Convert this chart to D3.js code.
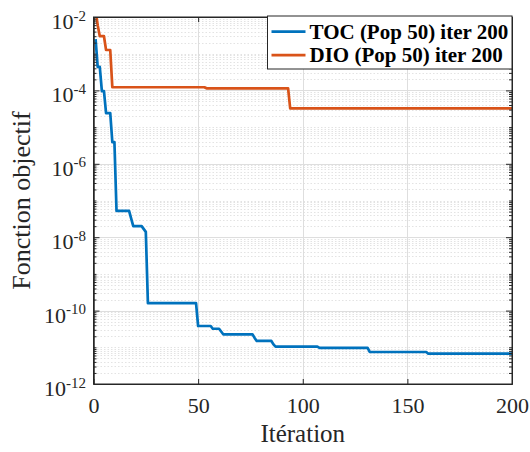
<!DOCTYPE html>
<html>
<head>
<meta charset="utf-8">
<script src="https://cdn.jsdelivr.net/npm/d3@7"></script>
<style>
  html, body { margin: 0; padding: 0; background: #ffffff; }
  svg { display: block; }
  text, tspan { font-family: "Liberation Serif", "Times New Roman", serif; fill: #262626; }
</style>
</head>
<body>
<svg id="chart" width="530" height="452"></svg>
<script>
// Best objective value per iteration (change points of each convergence curve)
const tocIter  = [1, 2, 3, 4, 5, 6, 8, 9, 10, 11, 17, 19, 23, 25, 26, 49, 50, 56, 57, 60, 62, 76, 77, 78, 85, 86, 87, 107, 108, 131, 132, 159, 160, 200];
const tocValue = [2.5e-3, 4.4e-4, 4.4e-4, 9.5e-5, 9.5e-5, 2.4e-5, 2.4e-5, 3.9e-6, 3.9e-6, 5.2e-8, 5.2e-8, 2.0e-8, 2.0e-8, 1.4e-8, 1.6e-10, 1.6e-10, 3.8e-11, 3.8e-11, 3.2e-11, 3.2e-11, 2.26e-11, 2.26e-11, 1.8e-11, 1.49e-11, 1.49e-11, 1.2e-11, 1.04e-11, 1.04e-11, 9.6e-12, 9.6e-12, 7.45e-12, 7.45e-12, 6.7e-12, 6.7e-12];

const dioIter  = [1, 2, 3, 5, 6, 8, 9, 53, 54, 93, 94, 200];
const dioValue = [1.5e-2, 6e-3, 3.0e-3, 3.0e-3, 1.26e-3, 1.26e-3, 1.22e-4, 1.22e-4, 1.14e-4, 1.14e-4, 3.25e-5, 3.25e-5];

const seriesNames = ["TOC (Pop 50) iter 200", "DIO (Pop 50) iter 200"];
const seriesColors = ["#0072BD", "#D95319"];

const xTicks = [0, 50, 100, 150, 200];
const yExponents = [-2, -4, -6, -8, -10, -12];
const xTitle = "Itération";
const yTitle = "Fonction objectif";

const SERIF = "Liberation Serif";
const L = 93.5, R = 512, T = 17, B = 384;
const svg = d3.select("#chart");

const x = d3.scaleLinear().domain([0, 200]).range([L, R]);
const y = d3.scaleLog().domain([1e-12, 1e-2]).range([B, T]);

// minor values 1..9 x 10^n, leaving out the labelled decades
const minorVals = [];
for (let n = -12; n < -2; n++) {
  for (let k = 1; k <= 9; k++) {
    const v = k * Math.pow(10, n);
    if (!(k === 1 && n % 2 === 0)) minorVals.push(v);
  }
}
const majorVals = yExponents.map(e => Math.pow(10, e));

// grid
const grid = svg.append("g");
grid.selectAll("line.minor").data(minorVals).join("line")
  .attr("x1", L).attr("x2", R)
  .attr("y1", d => Math.round(y(d)) + 0.5).attr("y2", d => Math.round(y(d)) + 0.5)
  .attr("stroke", "#e3e3e3").attr("stroke-width", 1).attr("stroke-dasharray", "1.5,2");
grid.selectAll("line.hmaj").data(majorVals).join("line")
  .attr("x1", L).attr("x2", R)
  .attr("y1", d => Math.round(y(d)) + 0.5).attr("y2", d => Math.round(y(d)) + 0.5)
  .attr("stroke", "#dedede").attr("stroke-width", 1);
grid.selectAll("line.vmaj").data(xTicks.slice(1, -1)).join("line")
  .attr("x1", d => Math.round(x(d)) + 0.5).attr("x2", d => Math.round(x(d)) + 0.5)
  .attr("y1", T).attr("y2", B)
  .attr("stroke", "#dedede").attr("stroke-width", 1);

// curves
svg.append("clipPath").attr("id", "plotclip")
  .append("rect").attr("x", L).attr("y", T).attr("width", R - L).attr("height", B - T);

const line = d3.line().x(d => x(d[0])).y(d => y(d[1]));
const series = [
  d3.zip(tocIter, tocValue),
  d3.zip(dioIter, dioValue)
];
svg.append("g").attr("clip-path", "url(#plotclip)")
  .selectAll("path").data(series).join("path")
  .attr("d", line)
  .attr("fill", "none")
  .attr("stroke", (d, i) => seriesColors[i])
  .attr("stroke-width", 2.7)
  .attr("stroke-linejoin", "round");

// axes with inward ticks on all four sides
const axisStyle = g => {
  g.attr("font-family", SERIF);
  g.select(".domain").attr("stroke", "#262626").attr("stroke-width", 1);
  g.selectAll(".tick line").attr("stroke", "#262626");
};
const xb = svg.append("g").attr("transform", `translate(0,${B})`)
  .call(d3.axisBottom(x).tickValues(xTicks).tickSizeInner(-5).tickSizeOuter(0).tickFormat(d3.format("d")))
  .call(axisStyle);
xb.selectAll(".tick text").attr("y", 13).attr("dy", "0.71em")
  .attr("font-family", SERIF).style("font-size", "22px").attr("fill", "#262626");
svg.append("g").attr("transform", `translate(0,${T})`)
  .call(d3.axisTop(x).tickValues(xTicks).tickSizeInner(-5).tickSizeOuter(0).tickFormat(""))
  .call(axisStyle);

const yl = svg.append("g").attr("transform", `translate(${L},0)`)
  .call(d3.axisLeft(y).tickValues(majorVals).tickSizeInner(-6).tickSizeOuter(0).tickFormat(""))
  .call(axisStyle);
svg.append("g").attr("transform", `translate(${L},0)`)
  .call(d3.axisLeft(y).tickValues(minorVals).tickSizeInner(-3).tickSizeOuter(0).tickFormat(""))
  .call(axisStyle);
svg.append("g").attr("transform", `translate(${R},0)`)
  .call(d3.axisRight(y).tickValues(majorVals).tickSizeInner(-6).tickSizeOuter(0).tickFormat(""))
  .call(axisStyle);
svg.append("g").attr("transform", `translate(${R},0)`)
  .call(d3.axisRight(y).tickValues(minorVals).tickSizeInner(-3).tickSizeOuter(0).tickFormat(""))
  .call(axisStyle);

// y tick labels as 10 with superscript exponent
yl.selectAll(".tick").each(function(d) {
  const e = Math.round(Math.log10(d));
  const t = d3.select(this).select("text")
    .attr("x", -7.5).attr("y", 0).attr("dy", null)
    .attr("text-anchor", "end").attr("fill", "#262626")
    .attr("font-family", SERIF);
  t.text(null);
  t.append("tspan").attr("dy", 11.5).style("font-size", "22px").text("10");
  t.append("tspan").attr("dy", -8.5).style("font-size", "15px").text(String(e));
});

// frame
svg.append("rect").attr("x", L).attr("y", T).attr("width", R - L).attr("height", B - T)
  .attr("fill", "none").attr("stroke", "#262626").attr("stroke-width", 1);

// axis titles
svg.append("text").attr("x", (L + R) / 2).attr("y", 441.5)
  .attr("text-anchor", "middle").attr("font-family", SERIF).style("font-size", "25px").text(xTitle);
svg.append("text")
  .attr("transform", `translate(30,${(T + B) / 2}) rotate(-90)`)
  .attr("text-anchor", "middle").attr("font-family", SERIF).style("font-size", "26px").text(yTitle);

// legend
const lg = svg.append("g");
lg.append("rect").attr("x", 267.5).attr("y", 16).attr("width", 244.5).attr("height", 53)
  .attr("fill", "#ffffff").attr("stroke", "#262626").attr("stroke-width", 1);
const rows = lg.selectAll("g.row").data(seriesNames).join("g")
  .attr("transform", (d, i) => `translate(0,${31.7 + i * 23.5})`);
rows.append("line").attr("x1", 271.5).attr("x2", 305.5).attr("y1", 0).attr("y2", 0)
  .attr("stroke", (d, i) => seriesColors[i]).attr("stroke-width", 2.7);
rows.append("text").attr("x", 309.5).attr("y", 7)
  .attr("font-family", SERIF)
  .style("font-size", "21px").style("font-weight", "bold").style("fill", "#000000")
  .text(d => d);
</script>
</body>
</html>
